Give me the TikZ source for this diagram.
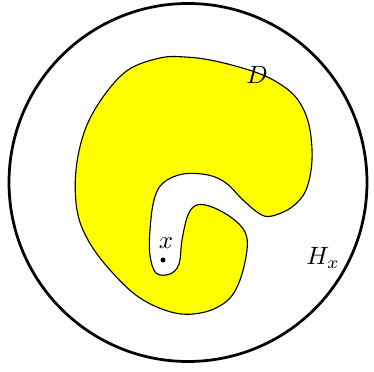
\documentclass[tikz,border=0pt]{standalone}
\usepackage{tikz}
\usetikzlibrary{calc}
\definecolor{BlobYellow}{HTML}{FFFF00}

\begin{document}
\begin{tikzpicture}[
    x=0.4pt, y=-0.4pt,
    disk/.style={line width=1.1pt},
    blob/.style={draw=black, line width=0.45pt, fill=BlobYellow},
    lbl/.style={inner sep=0pt, font=\normalsize}
  ]
  \useasboundingbox (0,0) rectangle (374,372);
  % the big disk
  \draw[disk] (188,182.5) circle [radius=179];
  % the region D
  \draw[blob] plot[smooth cycle, tension=0.6] coordinates {
    (160,58) (128,70) (103,97) (85,130) (76,170) (77,210) (88,240)
    (110,270) (140,298) (175,313) (205,312) (228,300) (240,280)
    (247,250) (245,232) (232,218) (212,207) (197,205) (188,215)
    (182,240) (179,264) (170,274) (156,273) (150,255) (150,230)
    (154,200) (163,183) (183,174) (208,175) (226,183) (243,200)
    (260,214) (272,216) (292,207) (306,190) (312,160) (309,125)
    (298,100) (280,84) (255,72) (215,61) (185,57)
  };
  % point and labels
  \fill (163,260) circle [radius=2.5] coordinate (ptx);
  \node[lbl] (labx) at (166,243) {$x$};
  \node[lbl] (labD) at (257,75) {$D$};
  \node[lbl] (labH) at (323,258) {$H_x$};
\end{tikzpicture}
\end{document}
